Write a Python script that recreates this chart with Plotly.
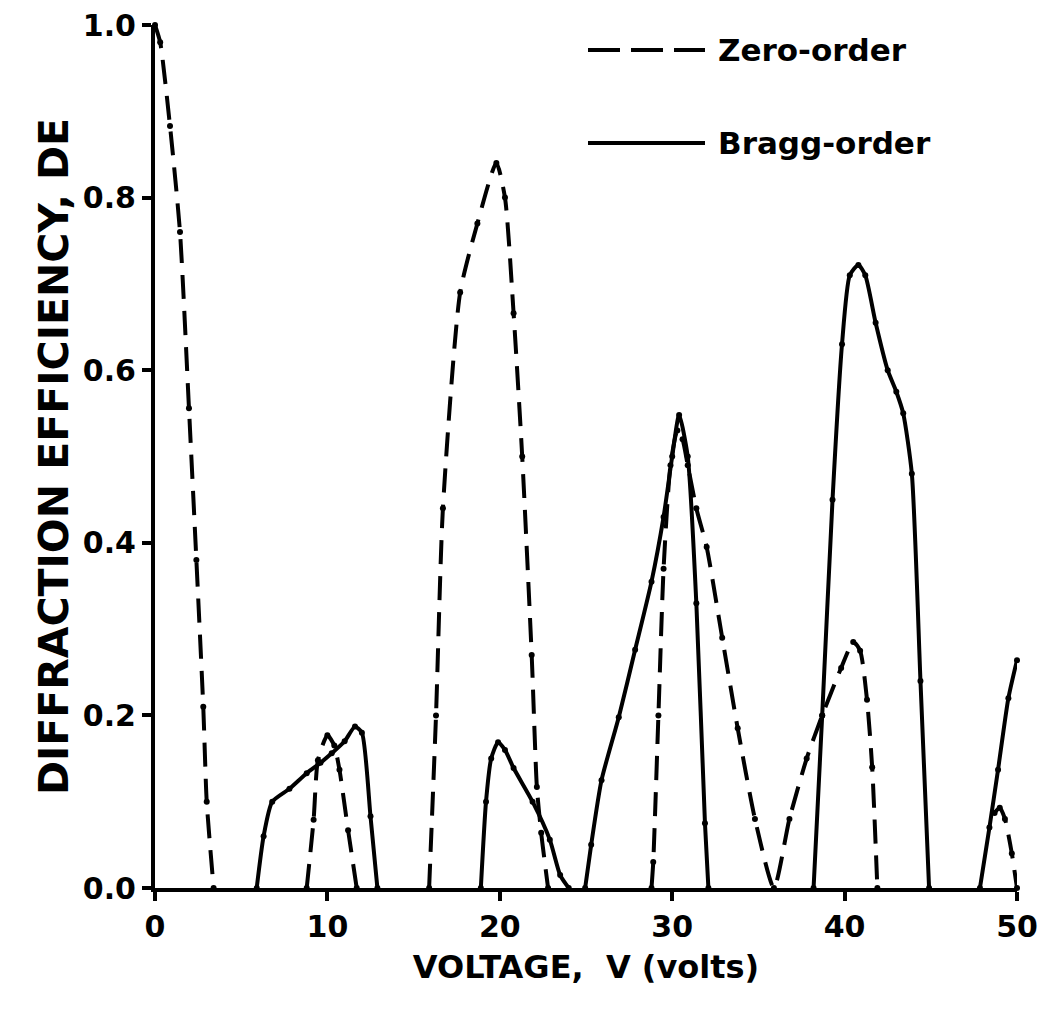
import plotly.graph_objects as go

# ---- data (voltage in volts, diffraction efficiency) ----
zero_v = [0, 0.3, 0.87, 1.45, 1.97, 2.4, 2.8, 3.0, 3.4, None,
          8.8, 9.2, 9.45, 10.0, 10.4, 10.7, 11.2, 11.7, None,
          15.9, 16.3, 16.7, 17.7, 18.7, 19.8, 20.3, 20.8, 21.3, 21.85, 22.15, 22.4, 22.8, None,
          28.8, 28.9, 29.2, 29.5, 29.9, 30.3, 30.6, 30.9, 31.4, 32.0, 32.9, 33.8, 34.8, 35.9,
          36.8, 37.8, 38.7, 39.8, 40.5, 40.9, 41.3, 41.6, 41.9, None,
          48.7, 49.0, 49.3, 49.7, 50.0]
zero_de = [1.0, 0.98, 0.883, 0.76, 0.556, 0.38, 0.21, 0.10, 0.0, None,
           0.0, 0.079, 0.148, 0.177, 0.165, 0.137, 0.067, 0.0, None,
           0.0, 0.2, 0.44, 0.69, 0.77, 0.84, 0.80, 0.666, 0.5, 0.27, 0.117, 0.064, 0.0, None,
           0.0, 0.03, 0.2, 0.37, 0.49, 0.53, 0.52, 0.49, 0.44, 0.395, 0.29, 0.185, 0.08, 0.0,
           0.08, 0.15, 0.2, 0.255, 0.285, 0.275, 0.218, 0.14, 0.0, None,
           0.087, 0.093, 0.08, 0.04, 0.0]

bragg_v = [5.9, 6.3, 6.8, 7.8, 8.8, 9.6, 10.25, 11.0, 11.6, 12.0, 12.5, 12.9, None,
           18.9, 19.2, 19.5, 19.9, 20.3, 20.8, 21.9, 22.9, 23.5, 24.0, None,
           24.95, 25.3, 25.9, 26.9, 27.85, 28.8, 29.5, 30.0, 30.4, 30.9, 31.4, 31.9, 32.1, None,
           38.2, 38.7, 39.3, 39.85, 40.3, 40.8, 41.2, 41.8, 42.5, 43.0, 43.4, 43.9, 44.4, 44.9, None,
           47.85, 48.4, 48.9, 49.5, 50.0]
bragg_de = [0.0, 0.06, 0.1, 0.115, 0.133, 0.145, 0.156, 0.17, 0.187, 0.18, 0.083, 0.0, None,
            0.0, 0.1, 0.15, 0.169, 0.16, 0.139, 0.10, 0.056, 0.015, 0.0, None,
            0.0, 0.05, 0.125, 0.198, 0.276, 0.355, 0.43, 0.50, 0.548, 0.50, 0.33, 0.075, 0.0, None,
            0.0, 0.2, 0.45, 0.63, 0.71, 0.722, 0.71, 0.655, 0.6, 0.575, 0.55, 0.48, 0.24, 0.0, None,
            0.0, 0.07, 0.137, 0.22, 0.264]

x_ticks = [0, 10, 20, 30, 40, 50]
y_ticks = [0.0, 0.2, 0.4, 0.6, 0.8, 1.0]
legend_names = ["Zero-order", "Bragg-order"]

# ---- layout geometry (pixels) ----
W, H = 1043, 1017
L, R, T, B = 155, 26, 25, 129
INK = "#000000"
FONT = "DejaVu Sans"

fig = go.Figure()
fig.add_trace(go.Scatter(
    x=zero_v, y=zero_de, mode="lines+markers", name=legend_names[0],
    line=dict(color=INK, width=4, dash="24px,12px", shape="spline", smoothing=0.6),
    marker=dict(color=INK, size=6), connectgaps=False, cliponaxis=False, showlegend=False))
fig.add_trace(go.Scatter(
    x=bragg_v, y=bragg_de, mode="lines+markers", name=legend_names[1],
    line=dict(color=INK, width=4, shape="spline", smoothing=0.6),
    marker=dict(color=INK, size=6), connectgaps=False, cliponaxis=False, showlegend=False))

# hand-drawn style legend (long line samples)
pw = W - L - R
ph = H - T - B
def px_x(p):
    return (p - L) / pw
def px_y(p):
    return (H - B - p) / ph

for name, dash, ypix in [(legend_names[0], "32px,11px", 50),
                         (legend_names[1], "solid", 143)]:
    fig.add_shape(type="line", xref="paper", yref="paper",
                  x0=px_x(588), x1=px_x(705), y0=px_y(ypix), y1=px_y(ypix),
                  line=dict(color=INK, width=4, dash=dash))
    fig.add_annotation(xref="paper", yref="paper", x=px_x(716), y=px_y(ypix),
                       xanchor="left", yanchor="middle", showarrow=False, text=name,
                       font=dict(family=FONT, size=31, color=INK, weight="bold"))

axis_common = dict(
    showgrid=False, zeroline=False, showline=True, linecolor=INK, linewidth=4,
    ticks="outside", ticklen=9, tickwidth=4, tickcolor=INK,
    tickfont=dict(family=FONT, size=30, color=INK, weight="bold"),
)

fig.update_layout(
    width=W, height=H,
    margin=dict(l=L, r=R, t=T, b=B, autoexpand=False),
    paper_bgcolor="white", plot_bgcolor="white",
    xaxis=dict(range=[0, 50], tickvals=x_ticks, ticktext=[str(v) for v in x_ticks],
               title=dict(text="VOLTAGE,\u00a0 V (volts)", standoff=14,
                          font=dict(family=FONT, size=32, color=INK, weight="bold")),
               automargin=False, **axis_common),
    yaxis=dict(range=[0, 1.0], tickvals=y_ticks, ticktext=[f"{v:.1f}" for v in y_ticks],
               title=dict(text="DIFFRACTION EFFICIENCY, DE", standoff=2,
                          font=dict(family=FONT, size=41, color=INK, weight="bold")),
               automargin=False, **axis_common),
    showlegend=False,
)

fig.write_html("out.html", config={"displayModeBar": False},
               post_script="document.body.style.margin='0';document.body.style.padding='0';")
